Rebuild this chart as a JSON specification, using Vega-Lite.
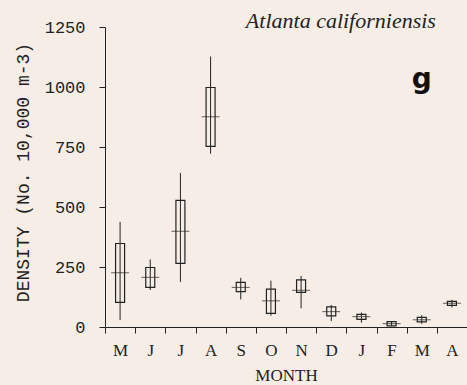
{
  "$schema": "https://vega.github.io/schema/vega-lite/v6.json",
  "width": 362,
  "height": 300,
  "autosize": "none",
  "padding": {"left": 105, "top": 27, "right": 0, "bottom": 58},
  "background": "#f6eee6",
  "config": {"view": {"stroke": null}},
  "data": {"values": [
    {"month": "May", "min": 29, "q1": 103, "med": 226, "q3": 348, "max": 438},
    {"month": "Jun", "min": 154, "q1": 165, "med": 207, "q3": 248, "max": 281},
    {"month": "Jul", "min": 188, "q1": 265, "med": 399, "q3": 528, "max": 642},
    {"month": "Aug", "min": 722, "q1": 753, "med": 876, "q3": 998, "max": 1127},
    {"month": "Sep", "min": 115, "q1": 147, "med": 165, "q3": 186, "max": 205},
    {"month": "Oct", "min": 47, "q1": 57, "med": 109, "q3": 158, "max": 193},
    {"month": "Nov", "min": 78, "q1": 144, "med": 153, "q3": 196, "max": 213},
    {"month": "Dec", "min": 25, "q1": 46, "med": 64, "q3": 84, "max": 92},
    {"month": "Jan", "min": 18, "q1": 32, "med": 43, "q3": 53, "max": 60},
    {"month": "Feb", "min": 4, "q1": 5, "med": 14, "q3": 22, "max": 25},
    {"month": "Mar", "min": 13, "q1": 21, "med": 30, "q3": 40, "max": 49},
    {"month": "Apr", "min": 81, "q1": 90, "med": 99, "q3": 107, "max": 113}
  ]},
  "encoding": {
    "x": {
      "field": "month", "type": "nominal",
      "scale": {"domain": ["May","Jun","Jul","Aug","Sep","Oct","Nov","Dec","Jan","Feb","Mar","Apr"], "paddingInner": 0, "paddingOuter": 0},
      "axis": {
        "title": "MONTH", "labelAngle": 0, "tickBand": "extent",
        "labelExpr": "isString(datum.value) ? substring(datum.value, 0, 1) : ''",
        "labelFont": "Liberation Serif", "labelFontSize": 17, "labelColor": "#222",
        "labelPadding": 9, "tickSize": 6, "tickColor": "#222", "domainColor": "#222",
        "titleFont": "Liberation Serif", "titleFontSize": 17, "titleFontWeight": "normal", "titleColor": "#222",
        "titlePadding": 9
      }
    }
  },
  "layer": [
    {
      "mark": {"type": "rule", "color": "#222", "strokeWidth": 1},
      "encoding": {
        "y": {"field": "min", "type": "quantitative",
          "scale": {"domain": [0, 1250], "nice": false},
          "axis": {
            "title": "DENSITY (No. 10,000 m-3)", "values": [0, 250, 500, 750, 1000, 1250], "grid": false, "format": "d",
            "labelFont": "Liberation Mono", "labelFontSize": 17, "labelColor": "#222", "labelPadding": 14,
            "tickSize": 6, "tickColor": "#222", "domainColor": "#222",
            "titleFont": "Liberation Mono", "titleFontSize": 18, "titleFontWeight": "normal", "titleColor": "#222",
            "titlePadding": 12, "titleY": 145
          }},
        "y2": {"field": "max"}
      }
    },
    {
      "mark": {"type": "bar", "size": 9, "fill": null, "fillOpacity": 0, "stroke": "#222", "strokeWidth": 1.2},
      "encoding": {
        "y": {"field": "q1", "type": "quantitative"},
        "y2": {"field": "q3"}
      }
    },
    {
      "mark": {"type": "tick", "size": 18, "thickness": 1, "color": "#222"},
      "encoding": {
        "y": {"field": "med", "type": "quantitative"}
      }
    },
    {
      "data": {"values": [{"month": "Apr", "value": 1250, "label": "Atlanta californiensis"}]},
      "mark": {"type": "text", "font": "Liberation Serif", "fontStyle": "italic", "fontSize": 22, "align": "right", "baseline": "alphabetic", "dx": -16, "dy": 1, "color": "#222"},
      "encoding": {
        "y": {"field": "value", "type": "quantitative"},
        "text": {"field": "label"}
      }
    },
    {
      "data": {"values": [{"month": "Mar", "value": 995, "label": "g"}]},
      "mark": {"type": "text", "font": "DejaVu Sans", "fontWeight": "bold", "fontSize": 28, "align": "center", "baseline": "alphabetic", "color": "#111"},
      "encoding": {
        "y": {"field": "value", "type": "quantitative"},
        "text": {"field": "label"}
      }
    }
  ]
}
